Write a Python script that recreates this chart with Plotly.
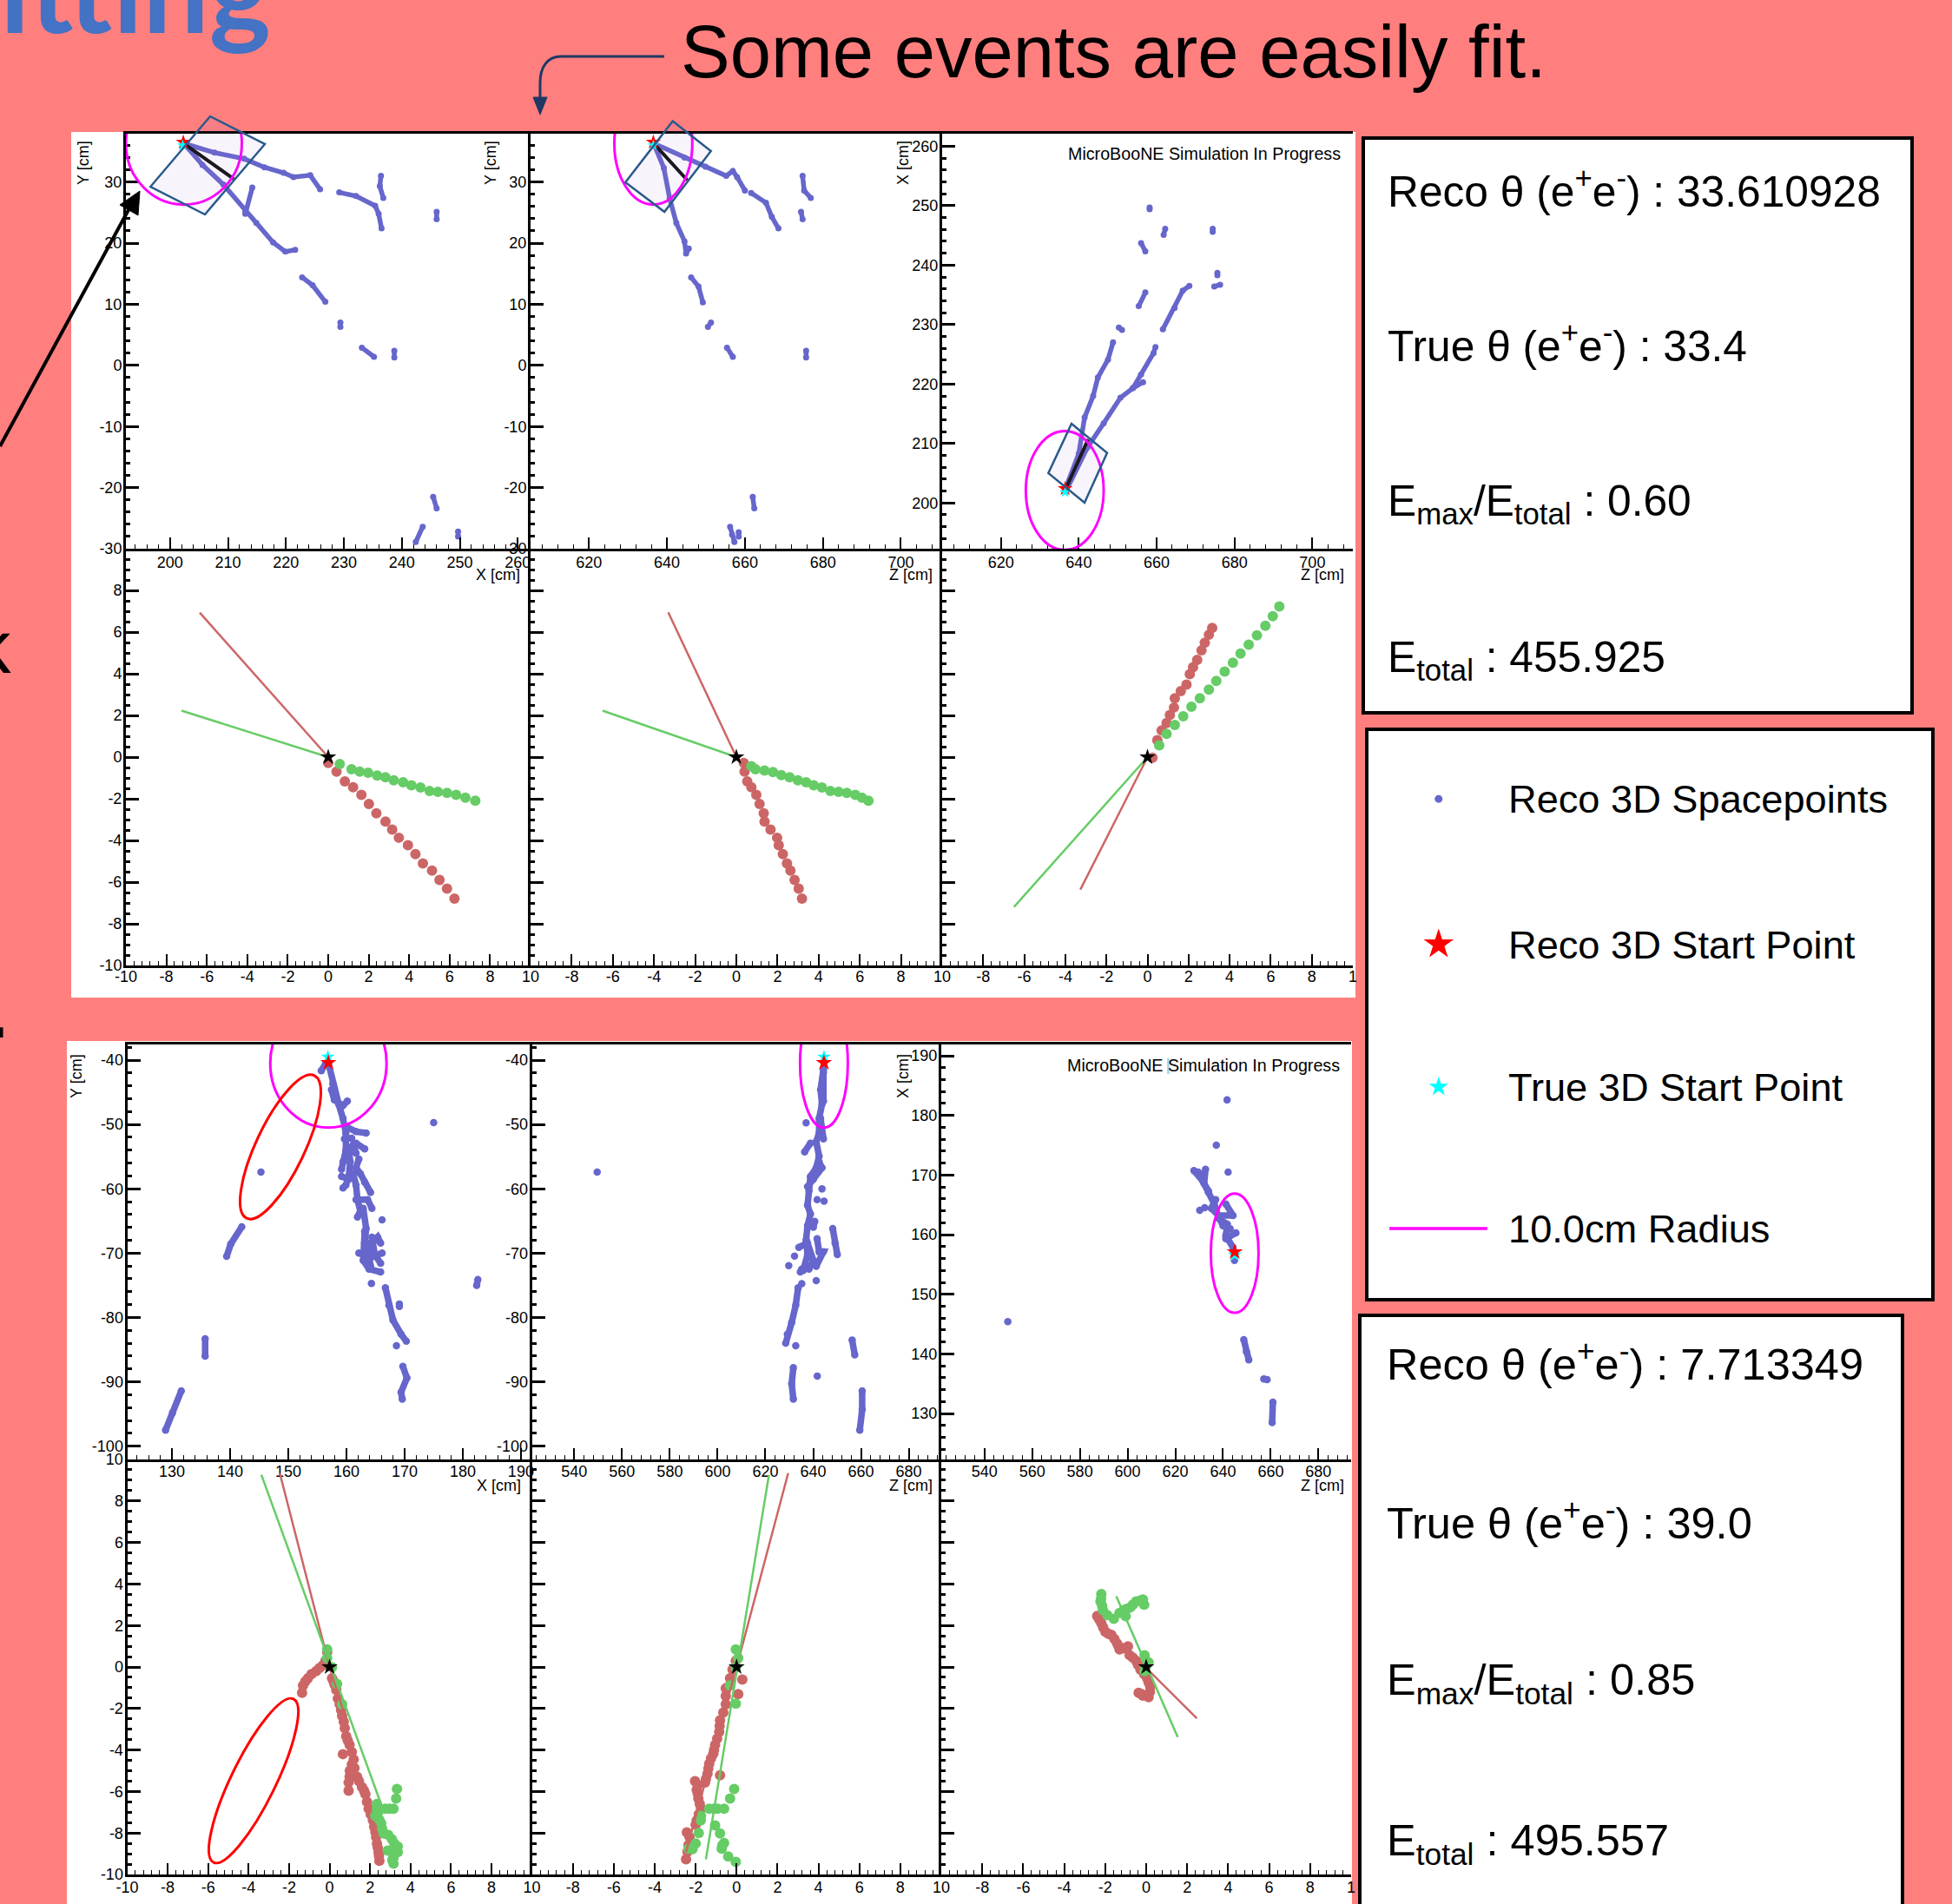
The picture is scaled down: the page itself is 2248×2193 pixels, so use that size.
import plotly.graph_objects as go

W, H = 2248, 2193
PINK = "#FF7F7F"
BLUE = "#6666CC"
RED = "#CC6666"
GREEN = "#66CC66"
NAVY = "#2A5A8C"

# ---------- event 1 space points: (horizontal, vertical) in cm ----------
EV1_XY = [
    [(202.4,36.3),(207.7,34.8),(212.8,33.8),(216.3,32.4),(219.6,31.5),(221.3,30.8),(224.2,31.1),(225.9,28.8)],
    [(229.2,28.3),(232.1,27.7),(235.4,26.1),(236,24.8),(236.5,22.4)],
    [(236.4,31),(236.2,29.3),(236.8,27.4)],
    [(246,25.1),(246,23.9)],
    [(202.4,36.3),(205.6,32.8),(209.2,29.6),(213,25.3),(214.9,23.3),(217.8,20.1),(219.9,18.6),(221.6,18.9)],
    [(214.2,29.1),(213,24.8)],
    [(222.8,14.4),(224.6,13.1),(226.8,10.4)],
    [(229.4,7),(229.4,6.3)],
    [(233.1,2.9),(235.2,1.4)],
    [(238.7,2.4),(238.7,1.3)],
    [(245.4,-21.5),(246,-23.4)],
    [(243.6,-26.4),(242.4,-28.9)],
    [(249.7,-27.2),(249.7,-28)],
]
EV1_ZY = [
    [(636.6,36.3),(644.5,34),(649.9,32.5),(655.2,31),(656.9,31.8),(658,30.8),(660,28.6)],
    [(661.6,28.2),(665.4,26.6),(666.9,24.3),(668.6,22.4)],
    [(674.8,31),(675.2,28.6),(676.9,27.4)],
    [(674.4,25.1),(674.8,23.9)],
    [(636.6,36.3),(639.2,32.3),(640.7,27.3),(642.4,23.3),(644.5,20.3),(644.9,18.3),(645.6,19.1)],
    [(646.2,14.4),(648.1,12.9),(649.2,10.3)],
    [(651.3,7),(650.5,6.3)],
    [(655.4,2.9),(656.9,1.4)],
    [(675.7,2.4),(675.7,1.3)],
    [(662,-21.5),(662.4,-23.4)],
    [(656.2,-26.4),(656.7,-27.7),(657.3,-28.9)],
    [(658.4,-27.3),(658.4,-28)],
]
EV1_ZX = [
    [(636.4,202.1),(640,208.3),(641.5,214.4),(643.7,218),(644.9,221.1),(647.5,224.1),(648.8,227)],
    [(650.3,229.5),(651.1,229.1)],
    [(655.4,233.1),(657.1,235.4)],
    [(661.6,229.2),(664.6,232.8),(666.7,235.7),(668.4,236.5)],
    [(674.8,236.4),(676.3,236.7)],
    [(675.6,238.7),(675.6,238.3)],
    [(636.8,202.1),(642.2,209.3),(646.4,213.4),(650.7,217.7),(653.9,219.3),(656.5,220.3)],
    [(653.9,219.3),(656,221.6),(659.2,225.2),(659.7,226.2)],
    [(658.2,249.7),(658.2,249.4)],
    [(662.2,246.1),(661.8,245.1)],
    [(656,243.7),(657.1,242.3)],
    [(674.4,246.1),(674.4,245.6)],
]

# ---------- event 1 residual panels ----------
EV1_RES_XY_RED = [(0,-.28),(.41,-.70),(.82,-1.17),(1.23,-1.45),(1.64,-1.81),(2.01,-2.25),(2.38,-2.70),(2.83,-3.09),(3.16,-3.48),(3.49,-3.87),(3.94,-4.23),(4.31,-4.66),(4.68,-5.10),(5.13,-5.45),(5.50,-5.90),(5.87,-6.31),(6.24,-6.79)]
EV1_RES_XY_GRN = [(.57,-.33),(1.15,-.58),(1.56,-.70),(1.97,-.75),(2.42,-.89),(2.83,-.97),(3.24,-1.11),(3.70,-1.21),(4.11,-1.35),(4.56,-1.46),(5.01,-1.63),(5.42,-1.67),(5.87,-1.72),(6.32,-1.81),(6.78,-1.95),(7.27,-2.09)]
EV1_RES_ZY_RED = [(.36,-.28),(.40,-.70),(.53,-1.17),(.73,-1.45),(.97,-1.81),(1.13,-2.25),(1.33,-2.70),(1.37,-3.09),(1.66,-3.48),(1.98,-3.87),(2.06,-4.23),(2.26,-4.66),(2.46,-5.10),(2.63,-5.45),(2.83,-5.90),(3.03,-6.31),(3.19,-6.79)]
EV1_RES_ZY_GRN = [(.73,-.44),(.93,-.58),(1.37,-.65),(1.78,-.72),(2.18,-.86),(2.59,-.97),(2.99,-1.11),(3.39,-1.21),(3.76,-1.35),(4.16,-1.46),(4.57,-1.63),(4.97,-1.67),(5.37,-1.72),(5.78,-1.81),(6.10,-1.95),(6.42,-2.09)]
EV1_RES_ZX_RED = [(.24,-.03),(.48,.81),(.69,1.28),(.93,1.64),(1.09,2.02),(1.29,2.38),(1.33,2.82),(1.62,3.17),(1.90,3.48),(2.06,3.98),(2.22,4.31),(2.42,4.67),(2.63,5.12),(2.79,5.49),(2.99,5.87),(3.15,6.20)]
EV1_RES_ZX_GRN = [(.57,.56),(.93,1.11),(1.33,1.54),(1.74,1.96),(2.14,2.42),(2.55,2.82),(2.99,3.24),(3.35,3.66),(3.76,4.10),(4.16,4.53),(4.53,4.97),(4.93,5.40),(5.33,5.84),(5.74,6.30),(6.10,6.76),(6.42,7.23)]
EV1_FIT_RED = [[(-6.35,6.93),(0,0)],[(-3.31,6.95),(0,0)],[(-3.27,-6.36),(0,0)]]
EV1_FIT_GRN = [[(-7.25,2.23),(0,0)],[(-6.5,2.23),(0,0)],[(-6.5,-7.19),(0,0)]]

# ---------- event 2 space points ----------
EV2_XY = [
    [(156.92,-40.54),(157.66,-43.69),(158.66,-46.84),(159.41,-49.09),(159.9,-51.34),(159.9,-54.03),(159.41,-55.83),(159.16,-56.96)],
    [(155.67,-41.66),(156.42,-40.54)],
    [(157.42,-44.59),(157.91,-46.16),(159.41,-47.06),(160.15,-46.39)],
    [(160.15,-50.44),(161.65,-51.11),(163.39,-51.34)],
    [(159.66,-52.24),(160.9,-52.14)],
    [(161.15,-53.14),(161.65,-54.48)],
    [(161.65,-52.91),(163.14,-53.81)],
    [(160.4,-53.58),(160.65,-55.83),(160.4,-58.08),(159.9,-59.43),(159.41,-59.88)],
    [(159.16,-58.08),(160.4,-58.53)],
    [(162.14,-55.38),(161.65,-56.73),(162.39,-57.63),(163.14,-58.98),(164.14,-60.56)],
    [(161.15,-57.63),(161.65,-59.43),(161.9,-61.68),(162.39,-63.48),(161.9,-64.38)],
    [(161.65,-61.68),(163.64,-61.68),(164.38,-63.03)],
    [(162.89,-63.03),(163.39,-66.18),(163.14,-68.43),(163.64,-69.33),(165.38,-67.53),(165.88,-68.43)],
    [(163.14,-66.63),(163.14,-68.43),(162.89,-71.13),(163.89,-72.48),(165.88,-72.93)],
    [(162.14,-70),(164.14,-70.68),(166.13,-70)],
    [(164.38,-67.53),(164.88,-70.23),(165.88,-71.58)],
    [(163.64,-68.43),(164.14,-72.03)],
    [(166.13,-64.83)],
    [(164.3,-74.7)],
    [(166.7,-75.4),(167.3,-78.1),(168,-80.4),(169.4,-82.6),(170.3,-83.7)],
    [(169.1,-77.9),(169.1,-78.3)],
    [(168.6,-84.4)],
    [(169.7,-87.6),(170.4,-89.4),(169.4,-91.6),(169.6,-92.7)],
    [(175,-49.7)],
    [(182.6,-74.1),(182.4,-75)],
    [(145.3,-57.4)],
    [(142,-65.9),(140.1,-68.6),(139.4,-70.5)],
    [(135.7,-83.3),(135.7,-86)],
    [(131.6,-91.4),(130.1,-94.8),(128.9,-97.5)],
]
EV2_ZY = [
    [(644.3,-41.44),(643.09,-44.59),(643.69,-46.84),(642.48,-49.09),(642.48,-51.34),(641.27,-52.68),(642.48,-54.93),(641.27,-56.73),(638.85,-58.08),(638.24,-60.33),(637.64,-62.58),(638.85,-63.93),(637.64,-65.73),(637.03,-67.98),(637.64,-70.23),(635.82,-72.7)],
    [(644.3,-41.89),(644.3,-46.39)],
    [(643.09,-49.09),(644.3,-52.24)],
    [(637.03,-49.76)],
    [(638.85,-52.91),(636.43,-54.26)],
    [(642.48,-55.83),(643.69,-56.73),(640.06,-58.53),(637.64,-59.66)],
    [(643.69,-60.02)],
    [(641.64,-61.68)],
    [(644.54,-61.91)],
    [(640.67,-65.06),(640.06,-65.96)],
    [(634,-69.1),(637.64,-68.43),(640.06,-71.13),(638.24,-72.48)],
    [(641.64,-67.75),(642.48,-69.78),(644.3,-69.78),(641.27,-72.03)],
    [(632.19,-70.45)],
    [(629.77,-71.94)],
    [(635.22,-72.48),(634.61,-72.93)],
    [(648.18,-66.18),(649.15,-68.43),(650.11,-70.23)],
    [(641.27,-74.28)],
    [(635.22,-74.73)],
    [(633.7,-75.4),(632.7,-78.1),(631,-80.8),(629.2,-82.6),(628.5,-84)],
    [(632.7,-84.4)],
    [(656.3,-83.5),(657.4,-85.8)],
    [(631.7,-87.8),(631,-90.3),(631.7,-92.7)],
    [(641.7,-89.1)],
    [(660.5,-91.4),(660.5,-94.3),(659.5,-97.5)],
    [(549.6,-57.4)],
]
EV2_ZX = [
    [(644.81,155.69),(644.2,157.88),(641.17,159.82),(641.78,161.76),(638.14,162.73),(636.32,165.16),(633.89,167.1),(631.46,169.04),(627.82,170.74)],
    [(632.67,170.98),(632.07,168.56),(633.89,167.34)],
    [(629.64,170.5),(632.07,169.53)],
    [(636.92,165.89),(635.1,164.43),(638.14,163.22),(644.2,163.22),(641.17,165.16)],
    [(637,164),(640,161.5),(643,161)],
    [(630.25,164.09)],
    [(632.31,164.53)],
    [(642.14,170.5)],
    [(645.42,160.3),(641.17,159.33)],
    [(637.2,175)],
    [(641.7,182.6)],
    [(549.8,145.4)],
    [(648.7,142.4),(649.8,140.4),(650.8,139)],
    [(657.1,135.8),(658.5,135.7)],
    [(660.9,131.9),(660.6,128.5)],
]

# ---------- event 2 residual panels ----------
EV2_RES_XY_RED = [(-1.36,-1.24),(-1.31,-.89),(-1.07,-.54),(-.66,-.20),(-.33,.08),(-.12,.71),(.12,-.54),(.33,-1.10),(.41,-1.52),(.57,-2.08),(.70,-2.64),(.82,-3.34),(.99,-3.76),(.66,-4.20),(1.19,-4.46),(1.23,-4.87),(.99,-5.29),(.94,-5.57),(.94,-5.96),(1.36,-5.29),(1.60,-5.78),(1.77,-6.13),(1.93,-6.83),(2.14,-7.39),(2.26,-7.95),(2.34,-8.51),(2.42,-8.92),(2.46,-9.34),
                  (.2,-.7),(.25,-.85),(.5,-1.8),(.62,-2.35),(.75,-2.95),(.9,-3.55),(1.1,-4.1),(1.1,-4.7),(1.0,-5.0),(1.45,-5.5),(1.7,-5.95),(1.85,-6.5),(2.03,-7.1),(2.2,-7.7),(2.3,-8.2),(2.38,-8.7),(2.44,-9.1),(-1.2,-.7),(-.9,-.35),(-.5,-.05),(-.2,.3)]
EV2_RES_XY_GRN = [(-.12,.85),(-.12,.43),(.12,-.01),(.37,-.82),(.62,-1.80),(2.34,-6.83),(2.75,-6.83),(3.16,-6.83),(2.26,-7.18),(2.55,-7.53),(2.67,-8.02),(3.08,-8.30),(3.37,-8.65),(2.87,-8.85),(3.37,-8.92),(3.16,-9.20),(3.16,-9.48),(3.33,-5.88),(3.29,-6.34),
                  (2.34,-6.6),(2.4,-7),(2.45,-7.35),(2.6,-7.8),(2.9,-8.1),(3.2,-8.5),(3.1,-8.9),(3.1,-9.3),(2.95,-6.83),(2.5,-6.83)]
EV2_RES_ZY_RED = [(.08,-1.31),(.28,-.61),(-.32,-.54),(-.20,-.13),(-.04,.29),(-.53,-1.03),(-.53,-1.80),(-.81,-2.57),(-.85,-3.13),(-1.05,-3.76),(-1.14,-4.18),(-1.34,-4.66),(-1.42,-5.15),(-.81,-5.22),(-1.54,-5.57),(-2.03,-5.50),(-1.95,-5.92),(-1.87,-6.34),(-1.74,-6.83),(-1.95,-7.39),(-2.43,-7.97),(-2.35,-8.58),(-2.47,-9.27),
                  (-.53,-1.4),(-.65,-2.2),(-.83,-2.85),(-.95,-3.45),(-1.1,-4.0),(-1.25,-4.4),(-1.38,-4.9),(-1.5,-5.4),(-1.9,-5.7),(-1.9,-6.1),(-1.8,-6.6),(-1.85,-7.1),(-2.0,-7.6),(-2.3,-8.2),(-2.4,-8.9),(-.3,-.8)]
EV2_RES_ZY_GRN = [(-.04,.85),(.08,.43),(-.04,-.01),(-.32,-.89),(-.04,-1.77),(-.12,-5.88),(-.32,-6.34),(-1.34,-6.83),(-.93,-6.83),(-.61,-6.83),(-1.74,-7.18),(-1.05,-7.64),(-.81,-8.02),(-.61,-8.48),(-.73,-8.76),(-.41,-9.13),(-.04,-9.39),(-2.15,-8.78),(-2.35,-8.76),
                  (-1.1,-6.83),(-1.75,-7.4),(-1.85,-8.0),(-2.0,-8.5),(-.7,-8.6)]
EV2_RES_ZX_RED = [(-2.39,2.46),(-2.19,2.11),(-1.99,1.69),(-1.70,1.55),(-1.42,1.13),(-1.30,.85),(-.89,.99),(-.81,.57),(-.49,.29),(-.28,-.13),(.04,-.54),(.20,-.96),(.12,-1.45),(-.37,-1.24),(-.16,-1.38),
                  (-2.3,2.3),(-2.1,1.9),(-1.85,1.6),(-1.55,1.35),(-1.35,1.0),(-1.1,.9),(-.65,.45),(-.4,.1),(-.1,-.35),(.12,-.75),(.18,-1.2),(-.25,-1.3)]
EV2_RES_ZX_GRN = [(-2.19,3.51),(-2.23,3.16),(-2.11,2.74),(-1.58,2.32),(-1.10,2.74),(-.77,2.88),(-.49,3.16),(-.16,3.25),(-.08,.57),(.12,.22),(-.08,-.20),
                  (-2.2,3.3),(-2.15,2.95),(-1.9,2.5),(-1.3,2.6),(-.95,2.8),(-.65,3.0),(-.3,3.2),(-.1,3.0),(-1.0,2.45),(0,.3),(-.02,0)]
EV2_FIT_RED = [[(-2.46,9.34),(0,0),(.8,-2.5)],[(2.52,9.34),(0,0),(-2.47,-8.92)],[(-.49,.43),(2.47,-2.47)]]
EV2_FIT_GRN = [[(-3.37,9.26),(2.55,-6.62)],[(1.58,9.26),(-1.50,-9.27)],[(-1.46,3.41),(1.54,-3.38)]]

# ---------- overlays that live in data space ----------
EV1_RECO = [(202.3,36.5),(636.5,36.5),(636.5,202.4)]
EV1_TRUE = [(202.2,36.0),(636.5,36.0),(636.5,201.8)]
EV2_RECO = [(156.9,-40.4),(644.5,-40.4),(644.9,157.1)]
EV2_TRUE = [(156.8,-39.5),(644.5,-39.5),(644.9,156.6)]
CIRCLE_R = 10.0
EV1_CENTERS = [(202.4,36.3),(636.5,36.3),(636.4,202.1)]
EV2_CENTERS = [(156.9,-40.5),(644.5,-40.5),(644.9,156.9)]
EV1_AXIS_LINE = [[(202.4,36.3),(211,30.5)],[(636.6,36.3),(645.2,30.3)],[(636.8,202.6),(642.4,210.7)]]

# ---------- axes ----------
EV1_COLS = [145, 611, 1085, 1558]
EV1_ROWS = [154, 632, 1112]
EV2_COLS = [146.5, 612.6, 1084, 1556]
EV2_ROWS = [1203, 1681, 2159]
EV1_XR = [[192.4,262.2],[605,710.6],[604.9,710.4]]
EV1_YR = [[-30,37.9],[-30,37.9],[192.3,262.1]]
EV2_XR = [[122.3,191.9],[522.3,693.6],[521.9,693.7]]
EV2_YR = [[-102.07,-37.57],[-102.07,-37.57],[122.3,191.9]]
EV1_XT = [[200,210,220,230,240,250,260],[620,640,660,680,700],[620,640,660,680,700]]
EV1_YT = [[30,20,10,0,-10,-20,-30],[30,20,10,0,-10,-20,-30],[260,250,240,230,220,210,200]]
EV2_XT = [[130,140,150,160,170,180,190],[540,560,580,600,620,640,660,680],[540,560,580,600,620,640,660,680]]
EV2_YT = [[-40,-50,-60,-70,-80,-90,-100],[-40,-50,-60,-70,-80,-90,-100],[190,180,170,160,150,140,130]]
RES_T = [-10,-8,-6,-4,-2,0,2,4,6,8,10]

TICK = dict(family="Liberation Sans", size=18, color="black")

# ---------- texts ----------
BOX1 = ["Reco θ (e<sup>+</sup>e<sup>-</sup>) : 33.610928", "True θ (e<sup>+</sup>e<sup>-</sup>) : 33.4",
        "E<sub>max</sub>/E<sub>total</sub> : 0.60", "E<sub>total</sub> : 455.925"]
BOX3 = ["Reco θ (e<sup>+</sup>e<sup>-</sup>) : 7.713349", "True θ (e<sup>+</sup>e<sup>-</sup>) : 39.0",
        "E<sub>max</sub>/E<sub>total</sub> : 0.85", "E<sub>total</sub> : 495.557"]
LEGEND = ["Reco 3D Spacepoints", "Reco 3D Start Point", "True 3D Start Point", "10.0cm Radius"]


def px(x):
    return x / W


def py(y):
    return 1 - y / H


def unzip(segs):
    xs, ys = [], []
    for s in segs:
        for a, b in s:
            xs.append(a)
            ys.append(b)
        xs.append(None)
        ys.append(None)
    return xs, ys


def poly(points, close=True):
    d = "M " + " L ".join(f"{px(a):.5f} {py(b):.5f}" for a, b in points)
    return d + (" Z" if close else "")


def ellipse_path(cx, cy, a, b, ux, uy):
    k = 0.5523
    vx, vy = -uy, ux

    def P(s, t):
        return (cx + s * a * ux + t * b * vx, cy + s * a * uy + t * b * vy)

    def f(p):
        return f"{px(p[0]):.5f} {py(p[1]):.5f}"

    return ("M " + f(P(1, 0))
            + " C " + f(P(1, k)) + " " + f(P(k, 1)) + " " + f(P(0, 1))
            + " C " + f(P(-k, 1)) + " " + f(P(-1, k)) + " " + f(P(-1, 0))
            + " C " + f(P(-1, -k)) + " " + f(P(-k, -1)) + " " + f(P(0, -1))
            + " C " + f(P(k, -1)) + " " + f(P(1, -k)) + " " + f(P(1, 0)) + " Z")


fig = go.Figure()
layout = {}
n = [0]
shapes = []
annotations = []


def new_axes(cols, rows, c, r, xr, yr, xt, yt, xminor, yminor, top=False, ylabels=True, xtext=None, xstand=-4):
    n[0] += 1
    i = n[0]
    xa = dict(domain=[px(cols[c]), px(cols[c + 1])], range=xr, anchor=f"y{i}", showgrid=False, zeroline=False,
              showline=True, linecolor="black", linewidth=3, mirror=top, ticks="inside", ticklen=13, tickwidth=1.6,
              tickcolor="black", tickmode="array", tickvals=xt, ticktext=xtext or [str(v) for v in xt],
              tickfont=TICK, tickangle=0, ticklabelstandoff=xstand,
              minor=dict(ticks="inside", ticklen=5, tickwidth=1.2, tickcolor="black", dtick=xminor, tick0=0))
    ya = dict(domain=[py(rows[r + 1]), py(rows[r])], range=yr, anchor=f"x{i}", showgrid=False, zeroline=False,
              showline=True, linecolor="black", linewidth=3, ticks="inside", ticklen=15, tickwidth=3,
              tickcolor="black", tickmode="array", tickvals=yt, ticktext=[str(v) for v in yt],
              showticklabels=ylabels, tickfont=TICK, tickangle=0, ticklabelstandoff=-2,
              minor=dict(ticks="inside", ticklen=5, tickwidth=3, tickcolor="black", dtick=yminor, tick0=0))
    layout[f"xaxis{i}"] = xa
    layout[f"yaxis{i}"] = ya
    return f"x{i}", f"y{i}"


def add_blue(segs, xa, ya, width=5.5, msize=7):
    xs, ys = unzip(segs)
    fig.add_trace(go.Scatter(x=xs, y=ys, xaxis=xa, yaxis=ya, mode="lines+markers", hoverinfo="skip", showlegend=False,
                             line=dict(color=BLUE, width=width), marker=dict(color=BLUE, size=msize)))


def add_pts(pts, color, xa, ya):
    fig.add_trace(go.Scatter(x=[p[0] for p in pts], y=[p[1] for p in pts], xaxis=xa, yaxis=ya, mode="markers",
                             hoverinfo="skip", showlegend=False, marker=dict(color=color, size=12)))


def add_line(pts, color, xa, ya, width=2.5):
    fig.add_trace(go.Scatter(x=[p[0] for p in pts], y=[p[1] for p in pts], xaxis=xa, yaxis=ya, mode="lines",
                             hoverinfo="skip", showlegend=False, line=dict(color=color, width=width)))


def add_star(pt, color, size, xa, ya):
    fig.add_trace(go.Scatter(x=[pt[0]], y=[pt[1]], xaxis=xa, yaxis=ya, mode="markers", hoverinfo="skip", showlegend=False,
                             marker=dict(color=color, size=size, symbol="star")))


def add_circle(c, xa, ya):
    shapes.append(dict(type="circle", xref=xa, yref=ya, x0=c[0] - CIRCLE_R, x1=c[0] + CIRCLE_R,
                       y0=c[1] - CIRCLE_R, y1=c[1] + CIRCLE_R, line=dict(color="#FF00FF", width=3), layer="above"))


# ---- event 1 ----
top_segs = [EV1_XY, EV1_ZY, EV1_ZX]
for c in range(3):
    xa, ya = new_axes(EV1_COLS, EV1_ROWS, c, 0, EV1_XR[c], EV1_YR[c], EV1_XT[c], EV1_YT[c], [2, 4, 4][c], 2, top=True, xstand=-3)
    add_blue(top_segs[c], xa, ya)
    add_circle(EV1_CENTERS[c], xa, ya)
    add_line(EV1_AXIS_LINE[c], "#111111", xa, ya, width=4)
    add_star(EV1_RECO[c], "red", 13, xa, ya)
    add_star(EV1_TRUE[c], "cyan", 10, xa, ya)

res1 = [(EV1_RES_XY_RED, EV1_RES_XY_GRN), (EV1_RES_ZY_RED, EV1_RES_ZY_GRN), (EV1_RES_ZX_RED, EV1_RES_ZX_GRN)]
for c in range(3):
    xt = RES_T if c == 0 else RES_T[1:]
    xtxt = [str(v) for v in xt]
    if c == 2:
        xtxt[-1] = "1"
    xa, ya = new_axes(EV1_COLS, EV1_ROWS, c, 1, [-10, 10], [-10, 10], xt, RES_T[:-1], 0.4, 0.5, ylabels=(c == 0), xtext=xtxt, xstand=-6)
    add_pts(res1[c][0], RED, xa, ya)
    add_pts(res1[c][1], GREEN, xa, ya)
    add_line(EV1_FIT_RED[c], RED, xa, ya)
    add_line(EV1_FIT_GRN[c], GREEN, xa, ya)
    add_star((0, 0), "black", 14, xa, ya)

# ---- event 2 ----
top_segs = [EV2_XY, EV2_ZY, EV2_ZX]
for c in range(3):
    xa, ya = new_axes(EV2_COLS, EV2_ROWS, c, 0, EV2_XR[c], EV2_YR[c], EV2_XT[c], EV2_YT[c], [2, 4, 4][c], 2, top=True, xstand=-5)
    add_blue(top_segs[c], xa, ya, width=7.5, msize=8.5)
    add_circle(EV2_CENTERS[c], xa, ya)
    add_star(EV2_TRUE[c], "cyan", 12, xa, ya)
    add_star(EV2_RECO[c], "red", 14, xa, ya)

res2 = [(EV2_RES_XY_RED, EV2_RES_XY_GRN), (EV2_RES_ZY_RED, EV2_RES_ZY_GRN), (EV2_RES_ZX_RED, EV2_RES_ZX_GRN)]
for c in range(3):
    xt = RES_T if c == 0 else RES_T[1:]
    xtxt = [str(v) for v in xt]
    if c == 2:
        xtxt[-1] = "1"
    xa, ya = new_axes(EV2_COLS, EV2_ROWS, c, 1, [-10, 10], [-10, 10], xt, RES_T, 0.4, 0.5, ylabels=(c == 0), xtext=xtxt, xstand=-4)
    add_pts(res2[c][0], RED, xa, ya)
    add_pts(res2[c][1], GREEN, xa, ya)
    add_line(EV2_FIT_RED[c], RED, xa, ya)
    add_line(EV2_FIT_GRN[c], GREEN, xa, ya)
    add_star((0, 0), "black", 14, xa, ya)

# ---- legend markers on a hidden axis over the legend box ----
n[0] += 1
i = n[0]
layout[f"xaxis{i}"] = dict(domain=[px(1574), px(2226)], range=[0, 1], visible=False, anchor=f"y{i}")
layout[f"yaxis{i}"] = dict(domain=[py(1497), py(840)], range=[1, 0], visible=False, anchor=f"x{i}")
LEG_ROW = [0.122, 0.377, 0.627, 0.875]
LEG_MX = 0.127
fig.add_trace(go.Scatter(x=[LEG_MX], y=[LEG_ROW[0]], xaxis=f"x{i}", yaxis=f"y{i}", mode="markers", hoverinfo="skip",
                         showlegend=False, marker=dict(color=BLUE, size=9)))
add_star((LEG_MX, LEG_ROW[1]), "red", 26, f"x{i}", f"y{i}")
add_star((LEG_MX, LEG_ROW[2]), "cyan", 17, f"x{i}", f"y{i}")
add_line([(0.04, LEG_ROW[3]), (0.213, LEG_ROW[3])], "#FF00FF", f"x{i}", f"y{i}", width=3.5)

# ---- slide furniture ----


def rect(x0, y0, x1, y1, fill="white", line=None, lw=0, layer="below"):
    shapes.append(dict(type="rect", xref="paper", yref="paper", x0=px(x0), x1=px(x1), y0=py(y1), y1=py(y0),
                       fillcolor=fill, line=dict(color=line or fill, width=lw), layer=layer))


rect(82, 152, 1561, 1149)
rect(77, 1199, 1557, 2193)
rect(1570, 159, 2202, 821, line="black", lw=4)
rect(1574, 840, 2226, 1497, line="black", lw=4)
rect(1566, 1515, 2191, 2200, line="black", lw=4)
rect(1344, 1219, 1347, 1237, fill="#A8D8F0", layer="above")

DIAMOND = "rgba(170,110,200,0.08)"
for pts in ([(242, 134), (305, 166), (236, 247), (173.3, 215)],
            [(774.7, 139.5), (818.7, 173.9), (765.2, 244), (720.2, 210)],
            [(1234, 488), (1275, 521.6), (1249, 579), (1207.3, 545)]):
    shapes.append(dict(type="path", xref="paper", yref="paper", path=poly(pts), fillcolor=DIAMOND,
                       line=dict(color=NAVY, width=2.5), layer="above"))

# red hand-drawn ellipses
shapes.append(dict(type="path", xref="paper", yref="paper", path=ellipse_path(323, 1321, 91, 28, .4286, -.9035),
                   line=dict(color="red", width=3), layer="above"))
shapes.append(dict(type="path", xref="paper", yref="paper", path=ellipse_path(292, 2051, 104.6, 25.5, .44, -.9),
                   line=dict(color="red", width=3), layer="above"))

# black arrow from the left edge
shapes.append(dict(type="path", xref="paper", yref="paper", path=poly([(0, 514), (150, 238)], close=False),
                   line=dict(color="black", width=4), layer="above"))
shapes.append(dict(type="path", xref="paper", yref="paper", path=poly([(161, 220), (138, 236), (159, 248)]),
                   fillcolor="black", line=dict(color="black", width=1), layer="above"))

# navy connector above the middle panel
shapes.append(dict(type="path", xref="paper", yref="paper",
                   path=f"M {px(765):.5f} {py(65):.5f} L {px(646):.5f} {py(65):.5f} "
                        f"C {px(630):.5f} {py(65):.5f} {px(622):.5f} {py(78):.5f} {px(622):.5f} {py(95):.5f} "
                        f"L {px(622):.5f} {py(115):.5f}",
                   line=dict(color="#1F3864", width=3), layer="above"))
shapes.append(dict(type="path", xref="paper", yref="paper", path=poly([(622, 132), (614, 112), (630, 112)]),
                   fillcolor="#1F3864", line=dict(color="#1F3864", width=1), layer="above"))


def text(t, x, y, size, color="black", family="Liberation Sans", xanchor="left", yanchor="middle", angle=0, **kw):
    annotations.append(dict(text=t, x=px(x), y=py(y), xref="paper", yref="paper", xanchor=xanchor, yanchor=yanchor,
                            showarrow=False, textangle=angle, font=dict(family=family, size=size, color=color), **kw))


text("Some events are easily fit.", 782, 59, 85)
text("<b>itting</b>", -2, 69, 135, color="#4472C4", family="Lato", yanchor="bottom")
text("k", 15, 745, 85, xanchor="right")
text(".", 16, 1156, 110, xanchor="right")
text("MicroBooNE Simulation In Progress", 1546, 177, 19.7, xanchor="right")
text("MicroBooNE Simulation In Progress", 1545, 1227, 19.7, xanchor="right")

for xpos, ypos, t in [(601, 662, "X [cm]"), (1076, 662, "Z [cm]"), (1550, 662, "Z [cm]"),
                      (602, 1711, "X [cm]"), (1076, 1711, "Z [cm]"), (1550, 1711, "Z [cm]")]:
    text(t, xpos, ypos, 18, xanchor="right")
for xpos, ypos, t in [(96, 188, "Y [cm]"), (565, 188, "Y [cm]"), (1040, 188, "X [cm]"),
                      (88, 1240, "Y [cm]"), (1040, 1240, "X [cm]")]:
    text(t, xpos, ypos, 18, xanchor="center", angle=-90)

for t, yy in zip(BOX1, [217, 395, 580, 760]):
    text(t, 1596, yy, 49.7)
for t, yy in zip(BOX3, [1568, 1751, 1938, 2123]):
    text(t, 1595, yy, 50.5)
for t, yy in zip(LEGEND, [920, 1088, 1252, 1415]):
    text(t, 1735, yy, 45.2)

fig.update_layout(width=W, height=H, margin=dict(l=0, r=0, t=0, b=0, autoexpand=False), autosize=False,
                  paper_bgcolor=PINK, plot_bgcolor="rgba(0,0,0,0)", showlegend=False,
                  shapes=shapes, annotations=annotations, **layout)

fig.write_html("out.html", config=dict(displayModeBar=False),
               post_script="document.body.style.margin='0';document.body.style.overflow='hidden';document.body.style.background='%s';" % PINK)
